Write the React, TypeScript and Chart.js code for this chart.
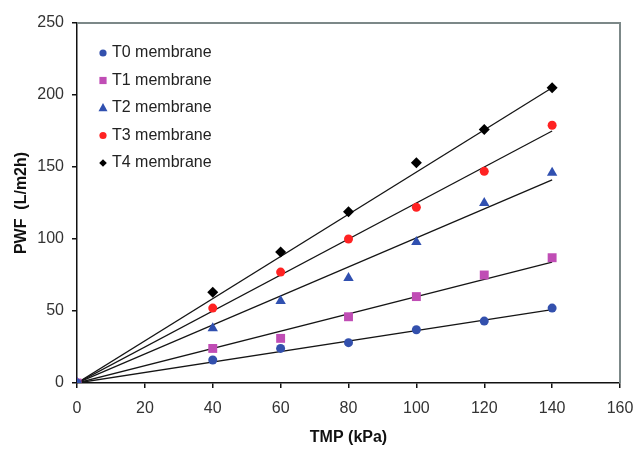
import React, { useEffect, useRef } from "react";
import { Chart, registerables } from "chart.js";

Chart.register(...registerables);

const tmp = [0, 40, 60, 80, 100, 120, 140];
const seriesNames = ["T0 membrane", "T1 membrane", "T2 membrane", "T3 membrane", "T4 membrane"];
const t0 = [0, 16, 24, 28, 37, 43, 52];
const t1 = [0, 24, 31, 46, 60, 75, 87];
const t2 = [0, 38, 57, 73, 98, 125, 146];
const t3 = [0, 52, 77, 100, 122, 147, 179];
const t4 = [0, 63, 91, 119, 153, 176, 205];
// Fitted trend lines: value at TMP = 0 and TMP = 140
const trendX = [0, 140];
const trendT0 = [0, 51];
const trendT1 = [0, 84];
const trendT2 = [0, 141];
const trendT3 = [0, 175];
const trendT4 = [0, 205];
const xTicks = [0, 20, 40, 60, 80, 100, 120, 140, 160];
const yTicks = [0, 50, 100, 150, 200, 250];

const colors = ["#3350ad", "#c04db5", "#3050b0", "#ff2222", "#000000"];
const styles = ["circle", "rect", "triangle", "circle", "rectRot"];
const radii = [4.5, 6.3, 6, 4.5, 5.5];

const FONT = "'Liberation Sans', Arial, sans-serif";

function drawMarker(ctx: CanvasRenderingContext2D, style: string, x: number, y: number, r: number, color: string) {
  ctx.save();
  ctx.fillStyle = color;
  ctx.beginPath();
  if (style === "circle") {
    ctx.arc(x, y, r, 0, Math.PI * 2);
  } else if (style === "rect") {
    ctx.rect(x - r, y - r, 2 * r, 2 * r);
  } else if (style === "triangle") {
    ctx.moveTo(x, y - r * 1.1);
    ctx.lineTo(x + r, y + r * 0.7);
    ctx.lineTo(x - r, y + r * 0.7);
    ctx.closePath();
  } else {
    ctx.moveTo(x, y - r);
    ctx.lineTo(x + r, y);
    ctx.lineTo(x, y + r);
    ctx.lineTo(x - r, y);
    ctx.closePath();
  }
  ctx.fill();
  ctx.restore();
}

const framePlugin = {
  id: "frameAndLegend",
  afterDraw(chart: any) {
    const { ctx, chartArea } = chart;
    const { left, right, top, bottom } = chartArea;
    ctx.save();
    ctx.strokeStyle = "#7c8888";
    ctx.lineWidth = 2;
    ctx.beginPath();
    ctx.moveTo(left, top);
    ctx.lineTo(right, top);
    ctx.lineTo(right, bottom);
    ctx.stroke();
    ctx.restore();

    // legend
    ctx.save();
    ctx.font = `16px ${FONT}`;
    ctx.textBaseline = "middle";
    ctx.textAlign = "left";
    ctx.fillStyle = "#222";
    const legendR = [3.6, 3.6, 4.5, 3.6, 3.8];
    seriesNames.forEach((name, i) => {
      const y = top + 30 + i * 27.5;
      drawMarker(ctx, styles[i], left + 26, y, legendR[i], colors[i]);
      ctx.fillStyle = "#222";
      ctx.fillText(name, left + 35, y);
    });
    ctx.restore();
  },
};

export default function App() {
  const ref = useRef<HTMLCanvasElement>(null);
  useEffect(() => {
    if (!ref.current) return;
    const series = [t0, t1, t2, t3, t4];
    const trends = [trendT0, trendT1, trendT2, trendT3, trendT4];
    const pointSets = series.map((vals, i) => ({
      type: "scatter" as const,
      label: seriesNames[i],
      data: vals.map((v, j) => ({ x: tmp[j], y: v })),
      pointStyle: styles[i],
      pointRadius: radii[i],
      pointBackgroundColor: colors[i],
      pointBorderColor: colors[i],
      pointBorderWidth: 0,
      showLine: false,
      order: 1,
    }));
    const lineSets = trends.map((vals, i) => ({
      type: "scatter" as const,
      label: seriesNames[i] + " fit",
      data: vals.map((v, j) => ({ x: trendX[j], y: v })),
      showLine: true,
      borderColor: "#151515",
      borderWidth: 1.3,
      pointRadius: 0,
      order: 2,
    }));
    const chart = new Chart(ref.current, {
      type: "scatter",
      data: { datasets: [...lineSets, ...pointSets] as any },
      options: {
        responsive: false,
        animation: false,
        layout: { padding: { top: 23, right: 14, left: 0, bottom: 0 } },
        plugins: { legend: { display: false }, tooltip: { enabled: false } },
        scales: {
          x: {
            type: "linear",
            min: 0,
            max: 160,
            afterFit: (s: any) => {
              s.height = 66;
              s.paddingLeft = 0;
              s.paddingRight = 0;
            },
            afterBuildTicks: (s: any) => {
              s.ticks = xTicks.map((v) => ({ value: v }));
            },
            ticks: { color: "#333", font: { family: FONT, size: 16 }, padding: 11, maxRotation: 0 },
            grid: { drawOnChartArea: false, drawTicks: true, tickLength: 5, color: "#111", lineWidth: 1.5 },
            border: { display: true, color: "#111", width: 1.5 },
            title: {
              display: true,
              text: "TMP (kPa)",
              color: "#111",
              font: { family: FONT, size: 16, weight: "bold" },
              padding: { top: 0, bottom: 2 },
            },
          },
          y: {
            type: "linear",
            min: 0,
            max: 250,
            afterFit: (s: any) => {
              s.width = 77;
              s.paddingTop = 0;
              s.paddingBottom = 0;
            },
            afterBuildTicks: (s: any) => {
              s.ticks = yTicks.map((v) => ({ value: v }));
            },
            ticks: { color: "#333", font: { family: FONT, size: 16 }, padding: 8 },
            grid: { drawOnChartArea: false, drawTicks: true, tickLength: 5, color: "#111", lineWidth: 1.5 },
            border: { display: true, color: "#111", width: 1.5 },
            title: {
              display: true,
              text: "PWF  (L/m2h)",
              color: "#111",
              font: { family: FONT, size: 16, weight: "bold" },
              padding: { top: 12, bottom: 0 },
            },
          },
        },
      },
      plugins: [framePlugin],
    });
    return () => chart.destroy();
  }, []);
  return (
    <div style={{ position: "fixed", left: 0, top: 0, width: 634, height: 449, background: "#fff" }}>
      <canvas ref={ref} width={634} height={449} style={{ display: "block" }} />
    </div>
  );
}
